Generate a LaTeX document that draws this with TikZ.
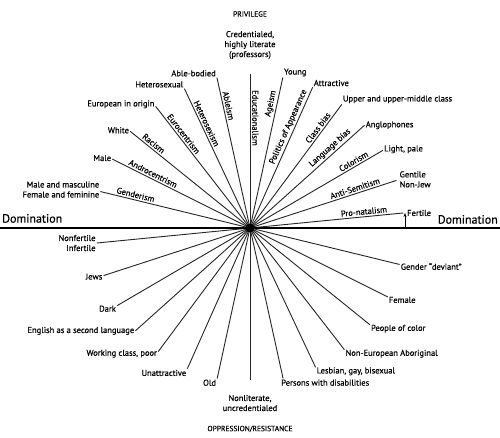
\documentclass[tikz,border=0pt]{standalone}
\usepackage{fontspec}
\setmainfont{PT Sans}[FakeBold=0.5]
\usetikzlibrary{calc,arrows.meta}
\begin{document}
\begin{tikzpicture}[x=1pt,y=-1pt,
  spoke/.style={line width=0.9pt, draw=black!85},
  lbl/.style={font=\fontsize{8.5}{10}\selectfont, inner sep=1pt, align=left},
  rlbl/.style={font=\fontsize{8.5}{10}\selectfont, inner sep=2pt, anchor=south},
  big/.style={font=\fontsize{12}{14}\selectfont, inner sep=0pt},
  titlecap/.style={font=\fontsize{7.5}{9}\selectfont, inner sep=0pt}]
\useasboundingbox (0,0) rectangle (500,438);
\fill[white] (0,0) rectangle (500,438);
\coordinate (c) at (250,228);
% spokes
\foreach \a/\n in {5.6/1,18/2,30.3/3,41.9/4,53.4/5,66/6,77.7/7,102.4/9,115.2/10,127.8/11,141.1/12,153.4/13,166.3/14}{
  \coordinate (u\n) at ($(c)+(\a:154pt)$);
  \coordinate (d\n) at ($(c)+(\a+180:154pt)$);
  \draw[spoke] (u\n) -- (d\n);
}
\coordinate (u8) at ($(c)+(90:154pt)$);
\coordinate (d8) at ($(c)+(270:152pt)$);
\draw[spoke] (u8) -- (d8);
% domination axis
\coordinate (axl) at (0,228);
\coordinate (axr) at (500,228);
\draw[line width=2.4pt] (axl) -- (axr);
\node[circle, fill=black, minimum size=9pt, inner sep=0pt] (hub) at (c) {};
\node[big, anchor=south west] (domL) at (2,223) {Domination};
\node[big, anchor=south east] (domR) at (498,224) {Domination};
% fertile arrow
\coordinate (fa) at (405,228);
\coordinate (fb) at ($(c)+(5.6:154pt)$);
\draw[line width=0.7pt, -{Stealth[length=4pt,width=3pt]}] (fa) -- (fa |- fb);
% titles
\node[titlecap] (priv) at (250,14) {PRIVILEGE};
\node[titlecap] (opp) at (250,429) {OPPRESSION/RESISTANCE};
% upper right end labels
\node[lbl, anchor=south west] (young) at (u7) {Young};
\node[lbl, anchor=south west] (attr) at (u6) {Attractive};
\node[lbl, anchor=south west] (upper) at (u5) {Upper and upper-middle class};
\node[lbl, anchor=west] (anglo) at (u4) {Anglophones};
\node[lbl, anchor=west, yshift=1pt] (light) at (u3) {Light, pale};
\node[lbl, anchor=west, yshift=1pt, xshift=2pt] (gentile) at (u2) {Gentile\\Non-Jew};
\node[lbl, anchor=west, xshift=1pt] (fertile) at (fa |- fb) {Fertile};
% top
\node[lbl, align=center] (cred) at (250,45) {Credentialed,\\highly literate\\(professors)};
% upper left end labels
\node[lbl, anchor=south east] (able) at (u9) {Able-bodied};
\node[lbl, anchor=south east] (hetero) at (u10) {Heterosexual};
\node[lbl, anchor=east, yshift=2pt] (euro) at (u11) {European in origin};
\node[lbl, anchor=east, yshift=1pt] (white) at (u12) {White};
\node[lbl, anchor=east, yshift=1pt] (male) at (u13) {Male};
\node[lbl, anchor=east, yshift=2pt, align=right] (mm) at (u14) {Male and masculine\\Female and feminine};
% lower left end labels
\node[lbl, anchor=east, align=right] (nonfert) at (d1) {Nonfertile\\Infertile};
\node[lbl, anchor=east, yshift=-1pt] (jews) at (d2) {Jews};
\node[lbl, anchor=east, yshift=-3pt] (dark) at (d3) {Dark};
\node[lbl, anchor=east] (esl) at (d4) {English as a second language};
\node[lbl, anchor=east, yshift=-2pt] (work) at (d5) {Working class, poor};
\node[lbl, anchor=north east] (unattr) at (d6) {Unattractive};
\node[lbl, anchor=north east] (old) at (d7) {Old};
\node[lbl, align=center] (nonlit) at (250,403) {Nonliterate,\\uncredentialed};
% lower right end labels
\node[lbl, anchor=north west, xshift=-3pt] (pwd) at (d9) {Persons with disabilities};
\node[lbl, anchor=west, yshift=-4pt] (lgb) at (d10) {Lesbian, gay, bisexual};
\node[lbl, anchor=west, yshift=-4pt] (noneuro) at (d11) {Non-European Aboriginal};
\node[lbl, anchor=west, yshift=-4pt] (poc) at (d12) {People of color};
\node[lbl, anchor=west, yshift=-3pt] (female) at (d13) {Female};
\node[lbl, anchor=west, yshift=-2pt] (gd) at (d14) {Gender ``deviant''};
% rotated labels right
\node[rlbl, rotate=5.6] (pro) at ($(c)+(5.6:115pt)$) {Pro-natalism};
\node[rlbl, rotate=18] (anti) at ($(c)+(18:112pt)$) {Anti-Semitism};
\node[rlbl, rotate=30.3] (color) at ($(c)+(30.3:123pt)$) {Colorism};
\node[rlbl, rotate=41.9] (lang) at ($(c)+(41.9:113pt)$) {Language bias};
\node[rlbl, rotate=53.4] (class) at ($(c)+(53.4:121pt)$) {Class bias};
\node[rlbl, rotate=66] (pol) at ($(c)+(66:108pt)$) {Politics of Appearance};
\node[rlbl, rotate=77.7] (age) at ($(c)+(77.7:126pt)$) {Ageism};
\node[rlbl, rotate=-90] (edu) at ($(c)+(90:110pt)$) {Educationalism};
% rotated labels left
\node[rlbl, rotate=-77.6] (ableism) at ($(c)+(102.4:124pt)$) {Ableism};
\node[rlbl, rotate=-64.8] (heterosexism) at ($(c)+(115.2:113pt)$) {Heterosexism};
\node[rlbl, rotate=-52.2] (eurocent) at ($(c)+(127.8:115pt)$) {Eurocentrism};
\node[rlbl, rotate=-38.9] (racism) at ($(c)+(141.1:128pt)$) {Racism};
\node[rlbl, rotate=-26.6] (andro) at ($(c)+(153.4:111pt)$) {Androcentrism};
\node[rlbl, rotate=-13.7] (gender) at ($(c)+(166.3:119pt)$) {Genderism};
\end{tikzpicture}
\end{document}
